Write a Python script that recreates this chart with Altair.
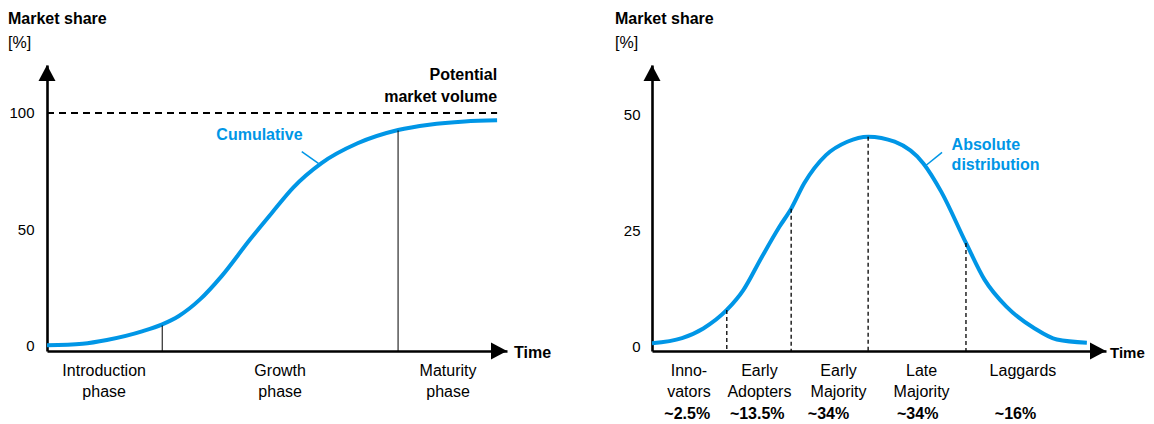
import altair as alt
import pandas as pd

FONT = "Liberation Sans, Arial, sans-serif"
BLUE = "#0096E6"
FS = 16
TFS = 15

# ---------------- Left panel: cumulative (S-curve) ----------------
cum_t = [0, 7.9, 13.3, 21.3, 25.6, 29.3, 34, 38.8, 45.1, 49.9, 54.7, 61, 69, 78, 84.9, 92.8, 100]
cum_v = [0.3, 1, 2.6, 6.4, 9.3, 12.9, 20, 30, 45.7, 57, 68, 78.5, 87, 92.7, 95, 96.4, 96.9]
potential_v = 100
phase_bound_t = [25.6, 78]
phase_bound_v = [8.8, 92.5]
phase_labels = ["Introduction\nphase", "Growth\nphase", "Maturity\nphase"]
phase_label_t = [12.7, 51.8, 89.1]
left_ticks = [0, 50, 100]
cum_leader_t = [56.6, 60.3]
cum_leader_v = [83.4, 78.4]

# ---------------- Right panel: absolute distribution ----------------
dist_t = [0, 6.9, 11.8, 17.2, 21.0, 25.1, 29.3, 32.0, 35.0, 40.0, 44.9, 49.7, 55.8, 62.4,
          66.5, 72.2, 76.5, 81.5, 88.0, 93.1, 100]
dist_v = [0.6, 1.7, 3.8, 7.8, 12.1, 19.0, 25.8, 29.7, 35.2, 41.3, 44.2, 45.3, 44.2, 39.5,
          33.4, 22.3, 14.3, 8.5, 3.8, 1.4, 0.7]
seg_t = [17.2, 32.0, 49.7, 72.2]
seg_v = [7.8, 29.7, 45.3, 22.3]
cat_labels = ["Inno-\nvators", "Early\nAdopters", "Early\nMajority", "Late\nMajority", "Laggards"]
cat_t = [8.5, 24.7, 42.9, 62.0, 85.3]
share_labels = ["~2.5%", "~13.5%", "~34%", "~34%", "~16%"]
share_t = [8.1, 24.2, 40.6, 61.1, 83.6]
right_ticks = [0, 25, 50]
abs_leader_t = [66.7, 62.9]
abs_leader_v = [41.9, 39.0]

H = 286
WL, WR = 460, 454
L_XDOM = [0, 102.2]
L_YDOM = [-2.15, 120.6]
R_XDOM = [0, 104.4]
R_YDOM = [-1.08, 60.8]

UP = "M0,-1L-1.06,1L1.06,1Z"
RIGHT = "M1,0L-1,-1.06L-1,1.06Z"


def panel(w, xdom, ydom, ticks, label_pad, title_dx, time_fs, time_dx, layers_fn):
    xs = alt.Scale(domain=xdom, nice=False, zero=False)
    ys = alt.Scale(domain=ydom, nice=False, zero=False)
    xax = alt.Axis(labels=False, ticks=False, grid=False, domain=True,
                   domainWidth=2.6, domainColor="black")
    yax = alt.Axis(values=ticks, ticks=False, grid=False, domain=True,
                   domainWidth=2.6, domainColor="black", labelFont=FONT,
                   labelFontSize=TFS, labelColor="black", labelPadding=label_pad,
                   minExtent=39, maxExtent=39)
    one = pd.DataFrame({"k": [0]})
    arrows = [
        alt.Chart(one).mark_point(shape=UP, filled=True, size=256, color="black",
                                  opacity=1, strokeWidth=0, yOffset=8)
        .encode(x=alt.value(0), y=alt.value(0)),
        alt.Chart(one).mark_point(shape=RIGHT, filled=True, size=256, color="black",
                                  opacity=1, strokeWidth=0, xOffset=-8)
        .encode(x=alt.value(w), y=alt.value(H)),
        alt.Chart(one).mark_text(text="Time", font=FONT, fontSize=time_fs, fontWeight="bold",
                                 align="left", baseline="middle", dx=time_dx, dy=2)
        .encode(x=alt.value(w), y=alt.value(H)),
    ]
    layers = layers_fn(xs, ys, xax, yax)
    return alt.layer(*layers, *arrows).properties(
        width=w, height=H,
        title=alt.TitleParams(text="Market share", subtitle="[%]", anchor="start",
                              frame="group", dx=title_dx, offset=14, font=FONT,
                              fontSize=FS, fontWeight="bold", color="black",
                              subtitleFont=FONT, subtitleFontSize=FS,
                              subtitleColor="black", subtitlePadding=8),
    )


def left_layers(xs, ys, xax, yax):
    curve = pd.DataFrame({"t": cum_t, "v": cum_v})
    base = alt.Chart(curve).mark_line(color=BLUE, strokeWidth=4, interpolate="monotone").encode(
        x=alt.X("t:Q", scale=xs, axis=xax, title=None),
        y=alt.Y("v:Q", scale=ys, axis=yax, title=None),
    )
    pot = pd.DataFrame({"t0": [0], "t1": [100], "v": [potential_v]})
    dashed = alt.Chart(pot).mark_rule(color="black", strokeWidth=1.8, strokeDash=[7, 5]).encode(
        x=alt.X("t0:Q", scale=xs), x2="t1:Q", y=alt.Y("v:Q", scale=ys))
    pot_text = alt.Chart(pd.DataFrame({"t": [100], "v": [116.3],
                                       "s": ["Potential\nmarket volume"]})).mark_text(
        font=FONT, fontSize=FS, fontWeight="bold", align="right", baseline="middle",
        lineBreak="\n", lineHeight=22, color="black").encode(
        x=alt.X("t:Q", scale=xs), y=alt.Y("v:Q", scale=ys), text="s:N")
    bounds = alt.Chart(pd.DataFrame({"t": phase_bound_t, "v": phase_bound_v})).mark_rule(
        color="black", strokeWidth=1).encode(
        x=alt.X("t:Q", scale=xs), y=alt.Y("v:Q", scale=ys), y2=alt.value(H))
    labels = alt.Chart(pd.DataFrame({"t": phase_label_t, "s": phase_labels})).mark_text(
        font=FONT, fontSize=FS, align="center", baseline="middle", lineBreak="\n",
        lineHeight=21, color="black").encode(
        x=alt.X("t:Q", scale=xs), y=alt.value(H + 20), text="s:N")
    cum_text = alt.Chart(pd.DataFrame({"t": [47.2], "v": [90.6], "s": ["Cumulative"]})).mark_text(
        font=FONT, fontSize=FS, fontWeight="bold", align="center", baseline="middle",
        color=BLUE).encode(x=alt.X("t:Q", scale=xs), y=alt.Y("v:Q", scale=ys), text="s:N")
    leader = alt.Chart(pd.DataFrame({"t": cum_leader_t, "v": cum_leader_v})).mark_line(
        color=BLUE, strokeWidth=1.5).encode(x=alt.X("t:Q", scale=xs), y=alt.Y("v:Q", scale=ys))
    return [base, dashed, bounds, pot_text, labels, cum_text, leader]


def right_layers(xs, ys, xax, yax):
    curve = pd.DataFrame({"t": dist_t, "v": dist_v})
    base = alt.Chart(curve).mark_line(color=BLUE, strokeWidth=4, interpolate="monotone").encode(
        x=alt.X("t:Q", scale=xs, axis=xax, title=None),
        y=alt.Y("v:Q", scale=ys, axis=yax, title=None),
    )
    segs = alt.Chart(pd.DataFrame({"t": seg_t, "v": seg_v})).mark_rule(
        color="black", strokeWidth=1.3, strokeDash=[4, 3]).encode(
        x=alt.X("t:Q", scale=xs), y=alt.Y("v:Q", scale=ys), y2=alt.value(H))
    cats = alt.Chart(pd.DataFrame({"t": cat_t, "s": cat_labels})).mark_text(
        font=FONT, fontSize=FS, align="center", baseline="middle", lineBreak="\n",
        lineHeight=21, color="black").encode(
        x=alt.X("t:Q", scale=xs), y=alt.value(H + 20), text="s:N")
    shares = alt.Chart(pd.DataFrame({"t": share_t, "s": share_labels})).mark_text(
        font=FONT, fontSize=FS, fontWeight="bold", align="center", baseline="middle",
        color="black").encode(
        x=alt.X("t:Q", scale=xs), y=alt.value(H + 63), text="s:N")
    abs_text = alt.Chart(pd.DataFrame({"t": [68.9], "v": [43.5],
                                       "s": ["Absolute\ndistribution"]})).mark_text(
        font=FONT, fontSize=FS, fontWeight="bold", align="left", baseline="middle",
        lineBreak="\n", lineHeight=20, color=BLUE).encode(
        x=alt.X("t:Q", scale=xs), y=alt.Y("v:Q", scale=ys), text="s:N")
    leader = alt.Chart(pd.DataFrame({"t": abs_leader_t, "v": abs_leader_v})).mark_line(
        color=BLUE, strokeWidth=1.5).encode(x=alt.X("t:Q", scale=xs), y=alt.Y("v:Q", scale=ys))
    return [base, segs, cats, shares, abs_text, leader]


left = panel(WL, L_XDOM, L_YDOM, left_ticks, 13, -39, FS, 7, left_layers)
right = panel(WR, R_XDOM, R_YDOM, right_ticks, 12, -37, 15, 4, right_layers)

chart = alt.hconcat(left, right, spacing=145, bounds="flush").properties(
    padding={"left": 0, "top": 3, "right": 0, "bottom": 0}
).configure_view(strokeWidth=0).resolve_scale(x="independent", y="independent")

chart.save("out.html", embed_options={"renderer": "svg", "actions": False})
